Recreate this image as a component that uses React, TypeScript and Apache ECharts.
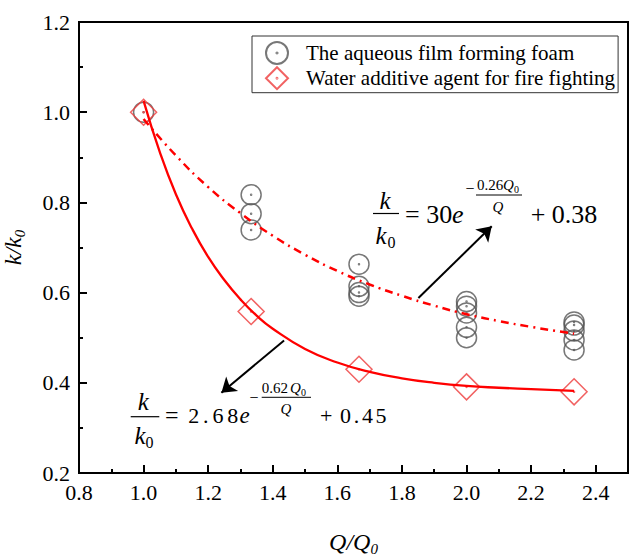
import React, { useEffect, useRef } from 'react';
import * as echarts from 'echarts';

const FONT = 'Liberation Serif, Times New Roman, Times, serif';

// The aqueous film forming foam (circles)
const afffX = [1.0, 1.333, 1.333, 1.333, 1.667, 1.667, 1.667, 1.667, 2.0, 2.0, 2.0, 2.0, 2.0, 2.333, 2.333, 2.333, 2.333, 2.333];
const afffY = [1.0, 0.817, 0.775, 0.739, 0.663, 0.614, 0.6, 0.592, 0.58, 0.57, 0.555, 0.523, 0.5, 0.535, 0.528, 0.515, 0.495, 0.473];

// Water additive agent for fire fighting (diamonds)
const waterX = [1.0, 1.333, 1.667, 2.0, 2.333];
const waterY = [1.0, 0.558, 0.43, 0.391, 0.38];

// Fitted curve (solid)
const solidFitX = [1.0, 1.05, 1.1, 1.15, 1.2, 1.25, 1.3, 1.35, 1.4, 1.5, 1.6, 1.7, 1.8, 1.9, 2.0, 2.1, 2.2, 2.333];
const solidFitY = [1.025, 0.912, 0.818, 0.742, 0.679, 0.628, 0.585, 0.549, 0.52, 0.475, 0.445, 0.424, 0.41, 0.4, 0.393, 0.389, 0.386, 0.382];

// Fitted curve (dash-dot)
const dashFitX = [1.0, 1.1, 1.2, 1.3, 1.4, 1.5, 1.6, 1.7, 1.8, 1.9, 2.0, 2.1, 2.2, 2.333];
const dashFitY = [0.985, 0.904, 0.834, 0.776, 0.726, 0.684, 0.648, 0.618, 0.593, 0.571, 0.552, 0.537, 0.524, 0.509];

// Annotation arrows [x0, y0, x1, y1] in data units
const arrowUpper = [1.851, 0.588, 2.078, 0.747];
const arrowLower = [1.435, 0.494, 1.241, 0.378];

const seriesNames = ['The aqueous film forming foam', 'Water additive agent for fire fighting'];
const xTickFmt = (v: number) => v.toFixed(1);

const circleSym = 'path://M0,10A10,10 0 1,1 20,10A10,10 0 1,1 0,10Z M9.5,10A0.5,0.5 0 1,1 10.5,10A0.5,0.5 0 1,1 9.5,10Z';
const diamondSym = 'path://M10,0L20,10L10,20L0,10Z M9.6,10A0.4,0.4 0 1,1 10.4,10A0.4,0.4 0 1,1 9.6,10Z';

function txt(text: string, x: number, y: number, size: number, italic = false, align = 'left') {
  return {
    type: 'text',
    x,
    y,
    z: 100,
    silent: true,
    style: {
      text,
      fontSize: size,
      fontFamily: FONT,
      fontStyle: italic ? 'italic' : 'normal',
      fill: '#000',
      align,
      verticalAlign: 'middle',
    },
  };
}
function bar(x1: number, x2: number, y: number, w = 1.2) {
  return {
    type: 'line',
    z: 100,
    silent: true,
    shape: { x1, y1: y, x2, y2: y },
    style: { stroke: '#000', lineWidth: w },
  };
}

export default function App() {
  const ref = useRef<HTMLDivElement>(null);
  useEffect(() => {
    document.body.style.margin = '0';
    const chart = echarts.init(ref.current!, null, { renderer: 'svg' });
    const nameRich = {
      i: { fontStyle: 'italic', fontSize: 24, fontFamily: FONT, color: '#000', lineHeight: 28 },
      s: { fontStyle: 'italic', fontSize: 15, fontFamily: FONT, color: '#000', verticalAlign: 'bottom', lineHeight: 16 },
    };
    const axisLbl = { color: '#000', fontSize: 22, fontFamily: FONT, formatter: xTickFmt };
    const tickStyle = { color: '#000', width: 2 };

    const graphic = [
      // formula 1
      txt('k', 385, 200, 25, true, 'center'),
      bar(373, 399, 213.5),
      txt('k', 381, 235, 25, true, 'center'),
      txt('0', 391.5, 242, 16, false, 'center'),
      txt('= 30', 405, 214, 26),
      txt('e', 452, 214, 26, true),
      txt('\u2212', 470, 188, 16, false, 'center'),
      txt('0.26', 477, 185, 15),
      txt('Q', 503, 185, 15, true),
      txt('0', 514, 189, 10),
      bar(476, 522, 195, 1),
      txt('Q', 498, 207, 15, true, 'center'),
      txt('+ 0.38', 530.7, 214, 26),
      // formula 2
      txt('k', 143.3, 401.7, 25, true, 'center'),
      bar(130.7, 159.3, 416.7),
      txt('k', 140, 435, 25, true, 'center'),
      txt('0', 149.5, 442.7, 16, false, 'center'),
      txt('=', 165, 415, 24),
      txt('2', 188.3, 415, 22),
      txt('.', 203.1, 415, 22),
      txt('6', 212.4, 415, 22),
      txt('8', 227.2, 415, 22),
      txt('e', 239.5, 415, 23, true),
      txt('\u2212', 254, 397.3, 16, false, 'center'),
      txt('0.62', 261.7, 388.3, 15),
      txt('Q', 290, 388.3, 15, true),
      txt('0', 301, 392, 10),
      bar(261.7, 311, 397.3, 1),
      txt('Q', 286, 409.3, 15, true, 'center'),
      txt('+', 320, 415, 22),
      txt('0', 340, 415, 22),
      txt('.', 353.7, 415, 22),
      txt('4', 361.9, 415, 22),
      txt('5', 375.6, 415, 22),
    ];

    chart.setOption({
      animation: false,
      grid: {
        left: 79, right: 2, top: 22, bottom: 84,
        show: true, borderColor: '#000', borderWidth: 2,
        containLabel: false, outerBoundsMode: 'none',
      },
      legend: {
        data: seriesNames,
        orient: 'vertical',
        left: 252,
        top: 36,
        padding: [5, 3, 2.5, 13],
        itemGap: 1.2,
        itemWidth: 48,
        itemHeight: 22,
        borderColor: '#333',
        borderWidth: 1,
        selectedMode: false,
        textStyle: { fontFamily: FONT, fontSize: 21, lineHeight: 22, color: '#000' },
      },
      xAxis: {
        type: 'value',
        min: 0.8,
        max: 2.5,
        interval: 0.2,
        position: 'bottom',
        axisLine: { onZero: false, lineStyle: { color: '#000', width: 2 } },
        axisTick: { inside: true, length: 8, lineStyle: tickStyle },
        minorTick: { show: true, splitNumber: 2, length: 4, lineStyle: tickStyle },
        axisLabel: { ...axisLbl, margin: 8, showMaxLabel: false },
        splitLine: { show: false },
        minorSplitLine: { show: false },
        name: '{i|Q}{i|/}{i|Q}{s|0}',
        nameLocation: 'middle',
        nameGap: 55,
        nameTextStyle: { fontFamily: FONT, fontSize: 24, color: '#000', rich: nameRich },
      },
      yAxis: {
        type: 'value',
        min: 0.2,
        max: 1.2,
        interval: 0.2,
        axisLine: { onZero: false, lineStyle: { color: '#000', width: 2 } },
        axisTick: { inside: true, length: 8, lineStyle: tickStyle },
        minorTick: { show: true, splitNumber: 2, length: 4, lineStyle: tickStyle },
        axisLabel: { ...axisLbl, margin: 9 },
        splitLine: { show: false },
        minorSplitLine: { show: false },
        name: '{i|k}{i|/}{i|k}{s|0}',
        nameLocation: 'middle',
        nameGap: 52,
        nameRotate: 90,
        nameTextStyle: { fontFamily: FONT, fontSize: 24, color: '#000', rich: nameRich },
      },
      series: [
        {
          name: seriesNames[0],
          type: 'scatter',
          z: 2,
          symbol: circleSym,
          symbolSize: 20,
          itemStyle: { color: 'rgba(255,255,255,0)', borderColor: '#555', borderWidth: 1.5 },
          data: afffX.map((x, i) => [x, afffY[i]]),
        },
        {
          name: seriesNames[1],
          type: 'scatter',
          z: 3,
          symbol: diamondSym,
          symbolSize: 26,
          itemStyle: { color: 'rgba(255,255,255,0)', borderColor: '#ee3b3b', borderWidth: 1.5 },
          data: waterX.map((x, i) => [x, waterY[i]]),
        },
        {
          type: 'line',
          z: 4,
          smooth: true,
          showSymbol: false,
          silent: true,
          lineStyle: { color: '#ff0000', width: 2.3 },
          data: solidFitX.map((x, i) => [x, solidFitY[i]]),
          markLine: {
            silent: true,
            symbol: ['none', 'arrow'],
            symbolSize: 14,
            label: { show: false },
            itemStyle: { color: '#000' },
            lineStyle: { color: '#000', width: 2, type: 'solid' },
            data: [
              [{ coord: [arrowUpper[0], arrowUpper[1]] }, { coord: [arrowUpper[2], arrowUpper[3]] }],
              [{ coord: [arrowLower[0], arrowLower[1]] }, { coord: [arrowLower[2], arrowLower[3]] }],
            ],
          },
        },
        {
          type: 'line',
          z: 4,
          smooth: true,
          showSymbol: false,
          silent: true,
          lineStyle: { color: '#ff0000', width: 2.5, type: [8, 5, 2, 5] },
          data: dashFitX.map((x, i) => [x, dashFitY[i]]),
        },
      ],
      graphic,
    });
    return () => chart.dispose();
  }, []);
  return <div ref={ref} style={{ width: 630, height: 557 }} />;
}
